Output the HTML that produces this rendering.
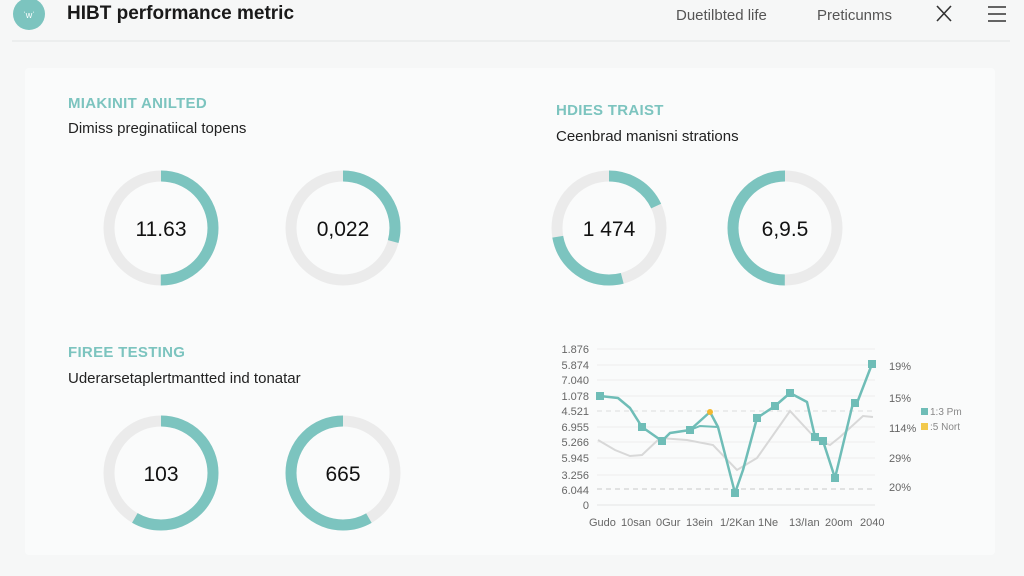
<!DOCTYPE html>
<html><head><meta charset="utf-8"><style>
html,body{margin:0;padding:0;background:#f6f7f7;width:1024px;height:576px;overflow:hidden}
svg{display:block;font-family:"Liberation Sans",sans-serif}
</style></head><body>
<svg width="1024" height="576" viewBox="0 0 1024 576">
<rect width="1024" height="576" fill="#f6f7f7"/>
<!-- header -->
<circle cx="29" cy="14" r="16" fill="#7cc4bf"/>
<text x="29" y="18" font-size="9" fill="#fff" text-anchor="middle">ˈwˈ</text>
<text x="67" y="19" font-size="19" font-weight="bold" fill="#1a1a1a">HIBT  performance metric</text>
<text x="676" y="20" font-size="15" fill="#555">Duetilbted life</text>
<text x="817" y="20" font-size="15" fill="#555">Preticunms</text>
<path d="M937 6 L951 21 M951 6 L937 21" stroke="#333" stroke-width="1.6"/>
<path d="M988 7 H1006 M988 14 H1006 M988 21 H1006" stroke="#333" stroke-width="1.4"/>
<line x1="12" y1="41" x2="1010" y2="41" stroke="#e3e5e5"/>
<!-- panel -->
<rect x="25" y="68" width="970" height="487" rx="4" fill="#fafbfb"/>
<!-- section titles -->
<text x="68" y="108" font-size="15" font-weight="bold" fill="#7cc4bf" letter-spacing="0.3">MIAKINIT ANILTED</text>
<text x="68" y="133" font-size="15" fill="#222">Dimiss preginatiical topens</text>
<text x="556" y="115" font-size="15" font-weight="bold" fill="#7cc4bf" letter-spacing="0.3">HDIES TRAIST</text>
<text x="556" y="141" font-size="15" fill="#222">Ceenbrad manisni strations</text>
<text x="68" y="357" font-size="15" font-weight="bold" fill="#7cc4bf" letter-spacing="0.3">FIREE TESTING</text>
<text x="68" y="383" font-size="15" fill="#222">Uderarsetaplertmantted ind tonatar</text>
<!-- donuts -->
<g fill="none" stroke-width="11">
<circle cx="161" cy="228" r="52" stroke="#ebebeb"/>
<circle cx="161" cy="228" r="52" stroke="#7cc4bf" stroke-dasharray="163.4 1000" transform="rotate(-90 161 228)"/>
<circle cx="343" cy="228" r="52" stroke="#ebebeb"/>
<circle cx="343" cy="228" r="52" stroke="#7cc4bf" stroke-dasharray="95.3 1000" transform="rotate(-90 343 228)"/>
<circle cx="609" cy="228" r="52" stroke="#ebebeb"/>
<circle cx="609" cy="228" r="52" stroke="#7cc4bf" stroke-dasharray="59 1000" transform="rotate(-90 609 228)"/>
<circle cx="609" cy="228" r="52" stroke="#7cc4bf" stroke-dasharray="86.2 1000" stroke-dashoffset="-149.8" transform="rotate(-90 609 228)"/>
<circle cx="785" cy="228" r="52" stroke="#ebebeb"/>
<circle cx="785" cy="228" r="52" stroke="#7cc4bf" stroke-dasharray="163.4 1000" stroke-dashoffset="-163.4" transform="rotate(-90 785 228)"/>
<circle cx="161" cy="473" r="52" stroke="#ebebeb"/>
<circle cx="161" cy="473" r="52" stroke="#7cc4bf" stroke-dasharray="190.6 1000" transform="rotate(-90 161 473)"/>
<circle cx="343" cy="473" r="52" stroke="#ebebeb"/>
<circle cx="343" cy="473" r="52" stroke="#7cc4bf" stroke-dasharray="190.6 1000" stroke-dashoffset="-136.1" transform="rotate(-90 343 473)"/>
</g>
<g font-size="21" fill="#111" text-anchor="middle">
<text x="161" y="236">11.63</text>
<text x="343" y="236">0,022</text>
<text x="609" y="236">1 474</text>
<text x="785" y="236">6,9.5</text>
<text x="161" y="481">103</text>
<text x="343" y="481">665</text>
</g>
<!-- chart -->
<g stroke="#eeeeee" stroke-width="1">
<line x1="597" y1="349" x2="875" y2="349"/><line x1="597" y1="365" x2="875" y2="365"/>
<line x1="597" y1="380" x2="875" y2="380"/><line x1="597" y1="396" x2="875" y2="396"/>
<line x1="597" y1="427" x2="875" y2="427"/><line x1="597" y1="442" x2="875" y2="442"/>
<line x1="597" y1="458" x2="875" y2="458"/><line x1="597" y1="475" x2="875" y2="475"/>
<line x1="597" y1="505" x2="875" y2="505" stroke="#e4e4e4"/>
</g>
<line x1="597" y1="411" x2="875" y2="411" stroke="#dcdcdc" stroke-dasharray="5 4"/>
<line x1="597" y1="489" x2="875" y2="489" stroke="#c8c8c8" stroke-dasharray="5 4"/>
<g font-size="11" fill="#666" text-anchor="end">
<text x="589" y="353">1.876</text><text x="589" y="369">5.874</text><text x="589" y="384">7.040</text>
<text x="589" y="400">1.078</text><text x="589" y="415">4.521</text><text x="589" y="431">6.955</text>
<text x="589" y="446">5.266</text><text x="589" y="462">5.945</text><text x="589" y="479">3.256</text>
<text x="589" y="494">6.044</text><text x="589" y="509">0</text>
</g>
<g font-size="11" fill="#666">
<text x="889" y="370">19%</text><text x="889" y="402">15%</text><text x="889" y="432">114%</text>
<text x="889" y="462">29%</text><text x="889" y="491">20%</text>
</g>
<g font-size="11" fill="#666">
<text x="589" y="526">Gudo</text><text x="621" y="526">10san</text><text x="656" y="526">0Gur</text>
<text x="686" y="526">13ein</text><text x="720" y="526">1/2Kan</text><text x="758" y="526">1Ne</text>
<text x="789" y="526">13/Ian</text><text x="825" y="526">20om</text><text x="860" y="526">2040</text>
</g>
<polyline fill="none" stroke="#d8d8d8" stroke-width="2" points="598,440 615,450 630,456 642,455 660,438 687,440 713,445 737,470 757,458 790,411 817,440 830,445 840,437 863,416 873,417"/>
<polyline fill="none" stroke="#6fbdb7" stroke-width="2.5" stroke-linejoin="round" points="600,396 618,398 630,408 642,427 662,441 670,433 690,430 710,412 718,427 735,493 743,470 757,418 775,406 790,393 807,402 815,437 823,441 835,478 853,403 857,403 872,364"/>
<polyline fill="none" stroke="#6fbdb7" stroke-width="2" points="690,430 700,426 718,427"/>
<g fill="#6fbdb7">
<rect x="596" y="392" width="8" height="8"/><rect x="638" y="423" width="8" height="8"/>
<rect x="658" y="437" width="8" height="8"/><rect x="686" y="426" width="8" height="8"/>
<rect x="731" y="489" width="8" height="8"/><rect x="753" y="414" width="8" height="8"/>
<rect x="771" y="402" width="8" height="8"/><rect x="786" y="389" width="8" height="8"/>
<rect x="811" y="433" width="8" height="8"/><rect x="819" y="437" width="8" height="8"/>
<rect x="831" y="474" width="8" height="8"/><rect x="851" y="399" width="8" height="8"/>
<rect x="868" y="360" width="8" height="8"/>
</g>
<circle cx="710" cy="412" r="3" fill="#f2b830"/>
<rect x="921" y="408" width="7" height="7" fill="#6fbdb7"/>
<text x="930" y="415" font-size="10" fill="#888">1:3 Pm</text>
<rect x="921" y="423" width="7" height="7" fill="#f2c94c"/>
<text x="930" y="430" font-size="10" fill="#888">:5 Nort</text>
</svg>
</body></html>
